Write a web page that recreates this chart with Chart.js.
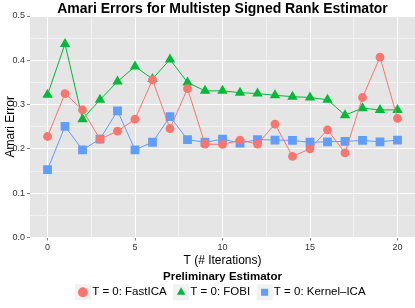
<!DOCTYPE html>
<html>
<head>
<meta charset="utf-8">
<script src="https://cdn.jsdelivr.net/npm/chart.js@4/dist/chart.umd.min.js"></script>
<style>
  html, body { margin: 0; padding: 0; background: #fff; }
  #wrap { width: 415px; height: 308px; }
</style>
</head>
<body>
<div id="wrap"><canvas id="chart" width="415" height="308"></canvas></div>
<script>
// ── Data ─────────────────────────────────────────────
const iterations = [0, 1, 2, 3, 4, 5, 6, 7, 8, 9, 10, 11, 12, 13, 14, 15, 16, 17, 18, 19, 20];
const fastICA   = [0.228, 0.325, 0.288, 0.222, 0.240, 0.267, 0.356, 0.246, 0.336, 0.211, 0.210,
                   0.220, 0.211, 0.256, 0.183, 0.200, 0.243, 0.191, 0.316, 0.407, 0.269];
const fobi      = [0.322, 0.437, 0.267, 0.311, 0.352, 0.386, 0.358, 0.402, 0.350, 0.331, 0.331,
                   0.327, 0.325, 0.321, 0.318, 0.316, 0.311, 0.276, 0.292, 0.288, 0.288];
const kernelICA = [0.153, 0.251, 0.198, 0.222, 0.286, 0.198, 0.215, 0.273, 0.221, 0.215, 0.222,
                   0.213, 0.221, 0.220, 0.219, 0.215, 0.216, 0.217, 0.219, 0.216, 0.220];
const seriesNames = ['T = 0: FastICA', 'T = 0: FOBI', 'T = 0: Kernel\u2013ICA'];
const xTicks = [0, 2.5, 5, 7.5, 10, 12.5, 15, 17.5, 20];
const yTicks = [0, 0.05, 0.1, 0.15, 0.2, 0.25, 0.3, 0.35, 0.4, 0.45, 0.5];

const FONT = '"Liberation Sans", Arial, Helvetica, sans-serif';
const COLORS = ['#F8766D', '#00BA38', '#619CFF'];

function pts(vals) { return iterations.map((x, i) => ({ x, y: vals[i] })); }
const isMajorX = v => v % 5 === 0;
const isMajorY = v => Math.round(v * 100) % 10 === 0;

// ── Panel background + legend key boxes ─────────────
const panelBg = {
    id: 'panelBg',
    beforeDraw(chart) {
        const { ctx, chartArea: a } = chart;
        ctx.save();
        ctx.fillStyle = '#E5E5E5';
        ctx.fillRect(a.left, a.top, a.right - a.left, a.bottom - a.top);
        const lg = chart.legend;
        if (lg && lg.legendHitBoxes) {
            ctx.fillStyle = '#F2F2F2';
            lg.legendHitBoxes.forEach(b => {
                const cx = b.left + 3.5, cy = b.top + b.height / 2;
                ctx.fillRect(cx - 8, cy - 8, 16, 16);
            });
        }
        ctx.restore();
    }
};

function ds(label, vals, color, style, radius) {
    return {
        label, data: pts(vals),
        borderColor: color, backgroundColor: color,
        pointBackgroundColor: color, pointBorderColor: color,
        borderWidth: 1, pointStyle: style,
        pointRadius: radius, pointBorderWidth: 0, pointHoverRadius: radius,
        tension: 0
    };
}

new Chart(document.getElementById('chart'), {
    type: 'line',
    data: {
        datasets: [
            ds(seriesNames[0], fastICA, COLORS[0], 'circle', 4.4),
            ds(seriesNames[1], fobi, COLORS[1], 'triangle', 6),
            ds(seriesNames[2], kernelICA, COLORS[2], 'rect', 6.2)
        ]
    },
    options: {
        responsive: false,
        animation: false,
        layout: { padding: 0, autoPadding: false },
        plugins: {
            title: {
                display: true, fullSize: false,
                text: 'Amari Errors for Multistep Signed Rank Estimator',
                color: '#000',
                font: { family: FONT, size: 14, weight: 'bold', lineHeight: 1 },
                padding: { top: 2, bottom: 0 }
            },
            legend: {
                position: 'bottom', fullSize: false,
                title: {
                    display: true, text: 'Preliminary Estimator', color: '#000',
                    font: { family: FONT, size: 11.5, weight: 'bold', lineHeight: '4px' },
                    padding: { top: 4, bottom: 0 }
                },
                labels: {
                    usePointStyle: true, boxWidth: 7, boxHeight: 7, padding: 11,
                    color: '#000', font: { family: FONT, size: 11.5, lineHeight: 1 }
                }
            },
            tooltip: { enabled: false }
        },
        scales: {
            x: {
                type: 'linear', min: -1, max: 21,
                afterBuildTicks: s => { s.ticks = xTicks.map(v => ({ value: v })); },
                afterFit: s => { s.height = 30; },
                border: { display: false },
                grid: {
                    color: c => (c.tick && isMajorX(c.tick.value) ? '#FFFFFF' : '#F2F2F2'),
                    tickColor: c => (c.tick && isMajorX(c.tick.value) ? '#7F7F7F' : 'rgba(0,0,0,0)'),
                    tickLength: 3, lineWidth: 1
                },
                ticks: {
                    autoSkip: false, maxRotation: 0, padding: 2,
                    color: '#333', font: { family: FONT, size: 9 },
                    callback: v => (isMajorX(v) ? String(v) : '')
                },
                title: {
                    display: true, text: 'T (# Iterations)', color: '#000',
                    font: { family: FONT, size: 12 }, padding: { top: 0, bottom: 0 }
                }
            },
            y: {
                type: 'linear', min: 0, max: 0.5,
                afterBuildTicks: s => { s.ticks = yTicks.map(v => ({ value: v })); },
                afterFit: s => { s.width = 30; },
                border: { display: false },
                grid: {
                    color: c => (c.tick && isMajorY(c.tick.value) ? '#FFFFFF' : '#F2F2F2'),
                    tickColor: c => (c.tick && isMajorY(c.tick.value) ? '#7F7F7F' : 'rgba(0,0,0,0)'),
                    tickLength: 3, lineWidth: 1
                },
                ticks: {
                    autoSkip: false, padding: 2,
                    color: '#333', font: { family: FONT, size: 9 },
                    callback: v => (isMajorY(v) ? v.toFixed(1) : '')
                },
                title: {
                    display: true, text: 'Amari Error', color: '#000',
                    font: { family: FONT, size: 12 }, padding: { top: 3, bottom: 0 }
                }
            }
        }
    },
    plugins: [panelBg]
});
</script>
</body>
</html>
